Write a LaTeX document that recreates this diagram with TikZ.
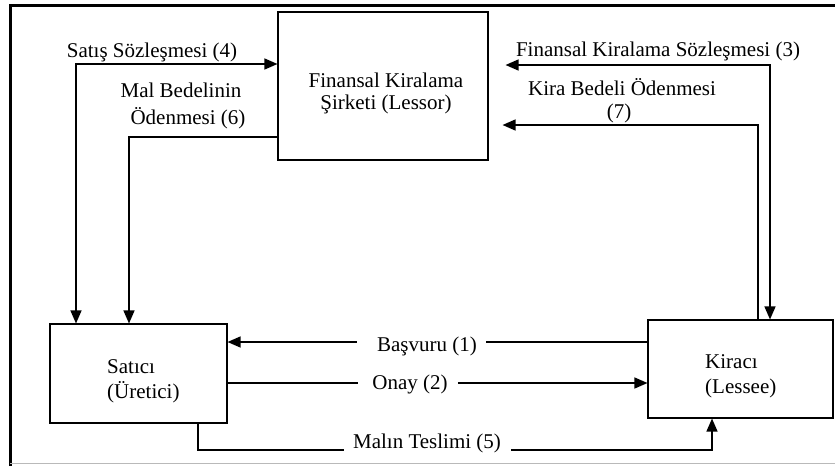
\documentclass[tikz,border=0pt]{standalone}
\usepackage{fontspec}
\setmainfont{Liberation Serif}
\usetikzlibrary{arrows.meta,calc}
\newcommand{\leftlines}[1]{\begin{tabular}[b]{@{}l@{}}#1\end{tabular}}
\begin{document}
\begin{tikzpicture}[x=1pt,y=-1pt,
  every node/.style={font=\fontsize{21}{25}\selectfont, inner sep=0pt},
  party/.style={draw, line width=1.1pt},
  link/.style={line width=1.4pt},
  flow/.style={link, -{Triangle[length=13pt,width=11pt]}},
  twoway/.style={link, {Triangle[length=13pt,width=11pt]}-{Triangle[length=13pt,width=11pt]}},
  tag/.style={anchor=base}
]
\useasboundingbox (0,0) rectangle (835,466);

% frame
\draw[line width=3pt] (10,466) -- (10,5) -- (835,5);
\draw[gray!55, line width=1.5pt] (10,463.5) -- (835,463.5);

% parties
\node[party, minimum width=210pt, minimum height=148pt] (lessor) at (383,86) {};
\node[party, minimum width=177pt, minimum height=99pt] (satici) at (138.5,373.5) {};
\node[party, minimum width=185pt, minimum height=98pt] (kiraci) at (740.5,369) {};

% names of the parties (anchored at the baseline of their last line)
\node[tag, align=center, font=\fontsize{21}{22}\selectfont] (lessorname) at (386,109) {Finansal Kiralama\\Şirketi (Lessor)};
\node[anchor=base west] (saticiname) at (107,398) {\leftlines{Satıcı\\(Üretici)}};
\node[anchor=base west] (kiraciname) at (705,393) {\leftlines{Kiracı\\(Lessee)}};

% bends of the connectors
\coordinate (k4) at (76,64);
\coordinate (k6) at (129,137);
\coordinate (k3) at (770,65);
\coordinate (k7) at (758,125);
\coordinate (r1) at (0,342);
\coordinate (r2) at (0,383);
\coordinate (k5) at (198,450);
\coordinate (k5b) at (712,450);

% labels
\node[tag] (t4) at (152,57) {Satış Sözleşmesi (4)};
\node[tag] (t6a) at (181,97) {Mal Bedelinin};
\node[tag] (t6b) at (188,124) {Ödenmesi (6)};
\node[tag] (t3) at (658,56) {Finansal Kiralama Sözleşmesi (3)};
\node[tag] (t7a) at (622,95) {Kira Bedeli Ödenmesi};
\node[tag] (t7b) at (619,118) {(7)};
\node[tag] (l1) at (427,351) {Başvuru (1)};
\node[tag] (l2) at (410,389) {Onay (2)};
\node[tag] (l5) at (427,448) {Malın Teslimi (5)};

% connectors
\draw[twoway] (lessor.west |- k4) -- (k4) -- (k4 |- satici.north);
\draw[flow] (lessor.west |- k6) -- (k6) -- (k6 |- satici.north);
\draw[twoway, shorten <=17pt] (lessor.east |- k3) -- (k3) -- (k3 |- kiraci.north);
\draw[flow, shorten >=14pt] (k7 |- kiraci.north) -- (k7) -- (lessor.east |- k7);

\draw[link] (kiraci.west |- r1) -- ([xshift=9pt]l1.east |- r1);
\draw[flow] ([xshift=-20pt]l1.west |- r1) -- (satici.east |- r1);

\draw[link] (satici.east |- r2) -- ([xshift=-14pt]l2.west |- r2);
\draw[flow] ([xshift=10pt]l2.east |- r2) -- (kiraci.west |- r2);

\draw[link] (k5 |- satici.south) -- (k5) -- ([xshift=-9pt]l5.west |- k5);
\draw[flow] ([xshift=10pt]l5.east |- k5b) -- (k5b) -- (k5b |- kiraci.south);
\end{tikzpicture}
\end{document}
